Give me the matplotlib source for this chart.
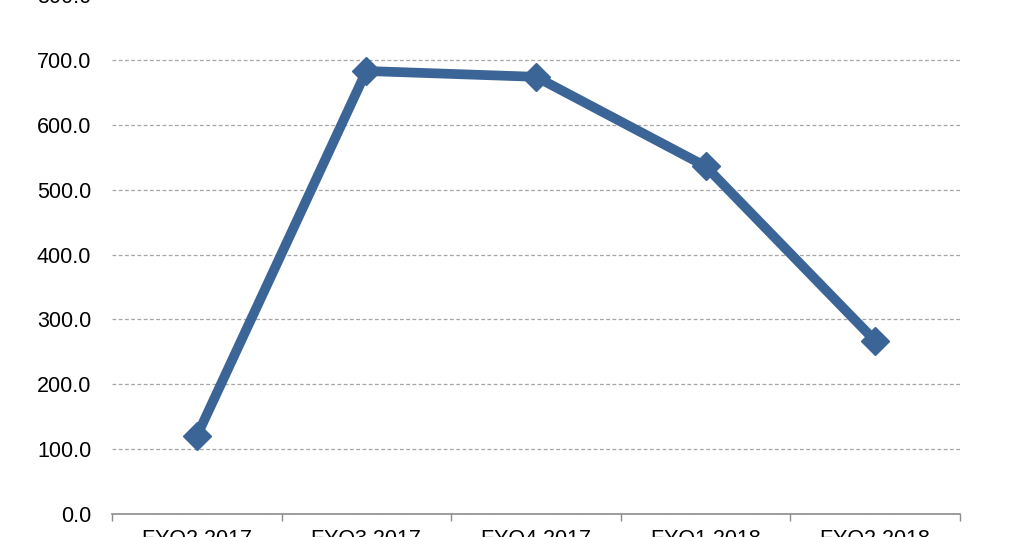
import matplotlib
matplotlib.use("Agg")
import matplotlib.pyplot as plt
import numpy as np

categories = ["FYQ2 2017", "FYQ3 2017", "FYQ4 2017", "FYQ1 2018", "FYQ2 2018"]
values = [120.0, 683.0, 674.0, 536.0, 267.0]
yticks = [0, 100, 200, 300, 400, 500, 600, 700, 800]

plt.rcParams['font.family'] = ['Liberation Sans', 'DejaVu Sans']

fig = plt.figure(figsize=(10.24, 5.37), dpi=100)
ax = fig.add_axes([112/1024, 23/537, (960-112)/1024, (537-23+4.9)/537])

x = np.arange(len(categories))
ax.plot(x, values, color="#3C6597", linewidth=7, marker="D", markersize=14,
        markerfacecolor="#3C6597", markeredgecolor="#3C6597", solid_joinstyle="miter", zorder=3)

ax.set_xlim(-0.5, len(categories) - 0.5)
ax.set_ylim(0, 800)
ax.set_yticks(yticks)
ax.set_yticklabels([f"{v:.1f}" for v in yticks], fontsize=15.5, color="#000000")
ax.yaxis.grid(True, linestyle=(0, (3, 2)), color="#A6A6A6", linewidth=0.9)
ax.set_axisbelow(True)
ax.tick_params(axis="y", length=0, pad=15)

ax.set_xticks(x)
ax.set_xticklabels(categories, fontsize=15.5)
ax.set_xticks(np.arange(-0.5, len(categories)), minor=True)
ax.tick_params(axis="x", which="major", length=0, pad=11)
ax.tick_params(axis="x", which="minor", length=5, width=1, color="#8C8C8C", direction="out")

for s in ["top", "right", "left"]:
    ax.spines[s].set_visible(False)
ax.spines["bottom"].set_color("#8C8C8C")
ax.spines["bottom"].set_linewidth(1.2)

fig.savefig("out.png", dpi=100)
